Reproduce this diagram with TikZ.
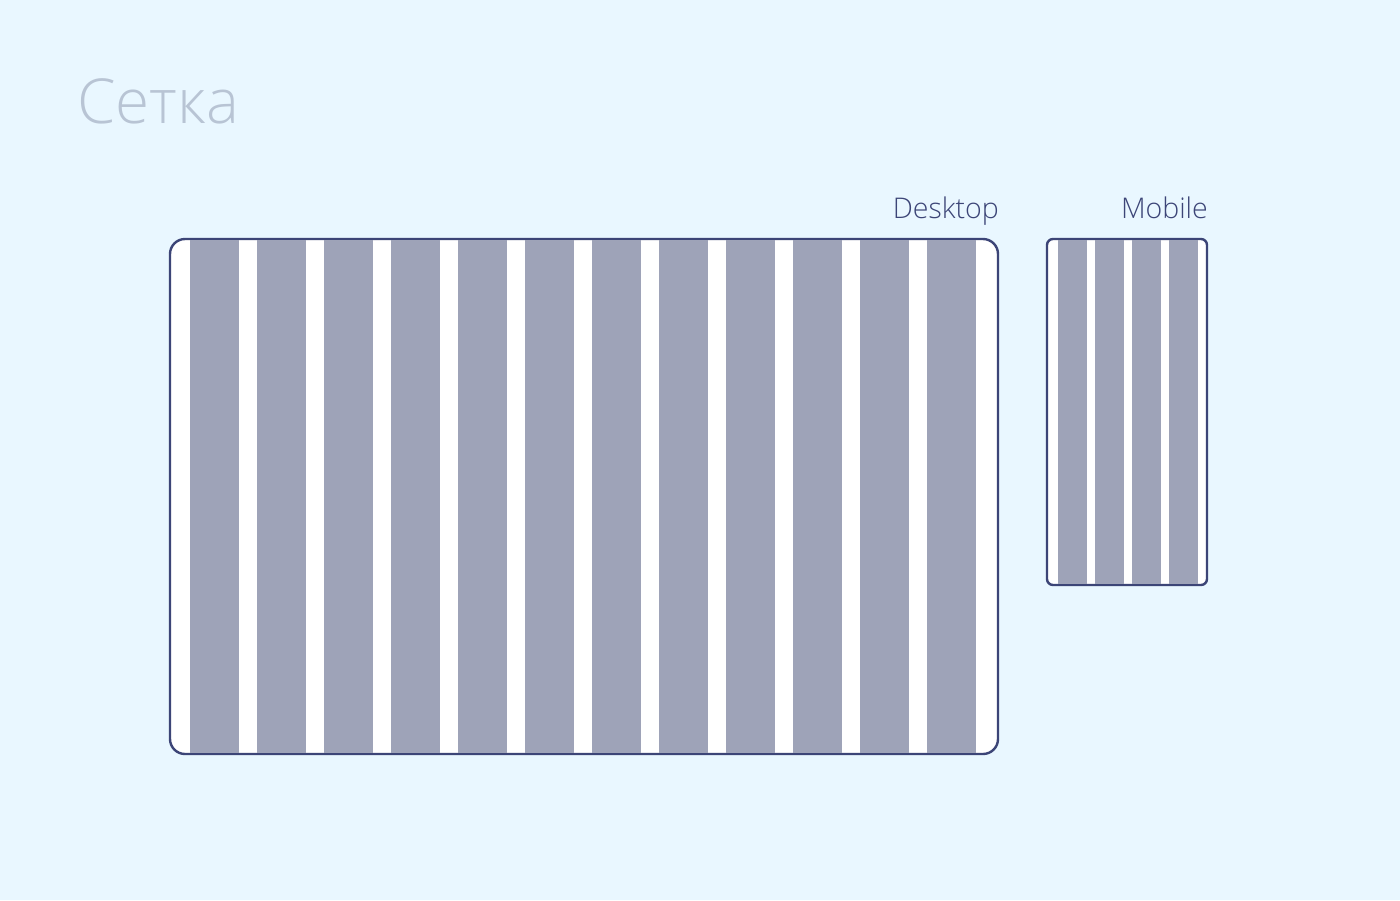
\documentclass[tikz,border=0pt]{standalone}
\usepackage{fontspec}
\setmainfont{Open Sans Light}
\usepackage{tikz}
\definecolor{bgblue}{HTML}{E9F7FF}
\definecolor{frameblue}{HTML}{3C4577}
\definecolor{colgray}{HTML}{9EA3B8}
\definecolor{titlegray}{HTML}{B8C4D4}
\tikzset{
    every path/.style={thick},
    screen/.style={draw=frameblue, line width=2.4pt, fill=white, inner sep=0pt},
    desk/.style={screen, rounded corners=15pt, minimum width=828pt, minimum height=515pt},
    phone/.style={screen, rounded corners=6pt, minimum width=160pt, minimum height=346pt},
    col/.style={fill=colgray, draw=none},
    headline/.style={text=titlegray, font=\fontsize{62}{70}\selectfont, inner sep=0pt},
    tag/.style={text=frameblue, font=\fontsize{28.5}{32}\selectfont, inner sep=0pt, anchor=base east}
}

\begin{document}
\begin{tikzpicture}[x=1pt,y=-1pt]
\fill[bgblue] (0,0) rectangle (1400,900);
\useasboundingbox (0,0) rectangle (1400,900);

\node[headline, anchor=base west] at (77,123) (title) {Сетка};

% desktop grid
\node[desk] at (584,496.5) (desktop) {};
\foreach \i in {0,...,11}
    \fill[col] ({190+67*\i},240.2) rectangle ++(49,512.6);
\node[tag] at (desktop.north east |- 0,218) (desklabel) {Desktop};

% mobile grid
\node[phone] at (1127,412) (mobile) {};
\foreach \i in {0,...,3}
    \fill[col] ({1057.5+37*\i},240.2) rectangle ++(29,343.6);
\node[tag] at (mobile.north east |- 0,218) (moblabel) {Mobile};
\end{tikzpicture}
\end{document}
